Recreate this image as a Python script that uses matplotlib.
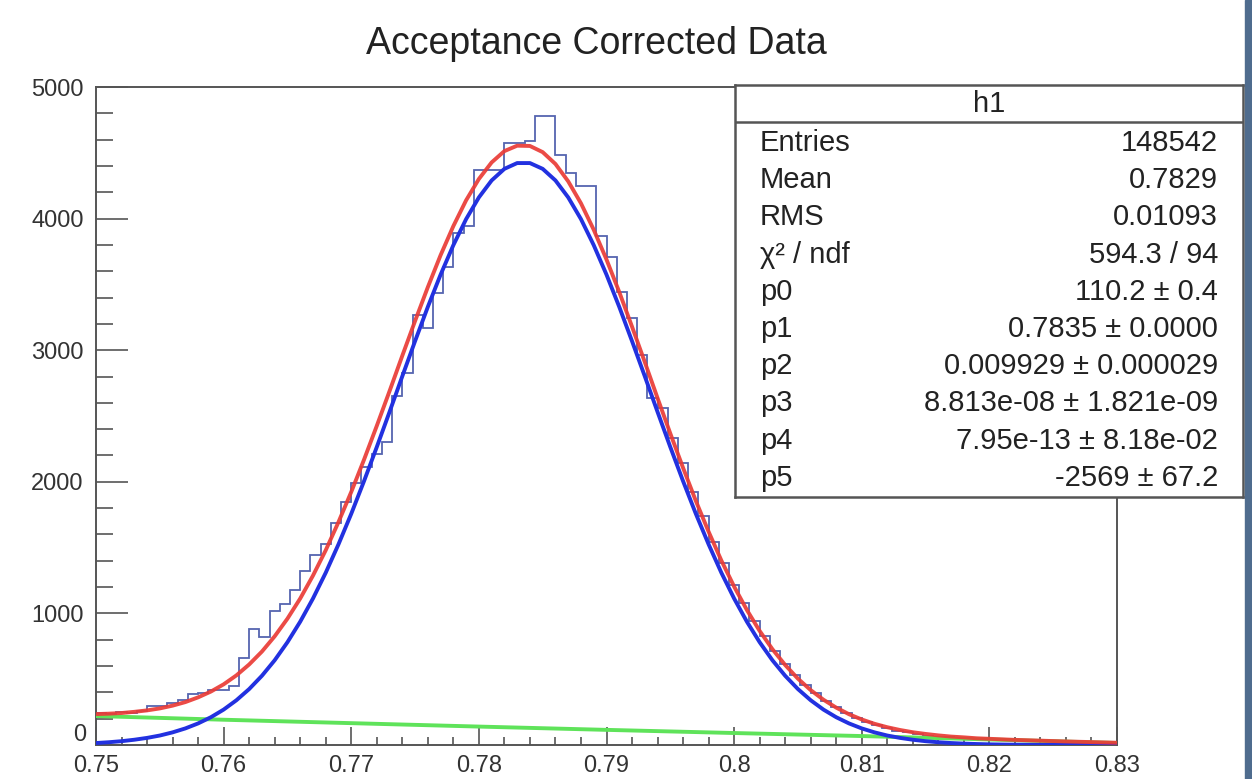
import numpy as np
import matplotlib
matplotlib.use("Agg")
import matplotlib.pyplot as plt
from matplotlib.patches import Rectangle
from matplotlib.ticker import MultipleLocator, FormatStrFormatter, FuncFormatter

plt.rcParams['font.family'] = ['Liberation Sans', 'DejaVu Sans']

# histogram h1: 100 bins from 0.75 to 0.83
x_lo, x_hi, n_bins = 0.75, 0.83, 100
counts = [240, 232, 248, 245, 262, 298, 300, 318, 340, 385,
          395, 418, 420, 450, 660, 880, 820, 1020, 1073, 1178,
          1324, 1443, 1527, 1686, 1850, 1990, 2115, 2210, 2300, 2650,
          2825, 3267, 3166, 3432, 3635, 3888, 3945, 4369, 4369, 4369,
          4574, 4574, 4586, 4780, 4780, 4483, 4350, 4250, 4250, 3865,
          3710, 3445, 3242, 2963, 2634, 2560, 2330, 2140, 1920, 1740,
          1545, 1380, 1215, 1080, 940, 825, 712, 615, 530, 458,
          392, 335, 285, 245, 208, 178, 150, 128, 110, 95,
          82, 72, 64, 57, 52, 48, 45, 42, 40, 38,
          35, 33, 30, 28, 26, 24, 22, 20, 18, 16]

# fit curves, every 0.001 from 0.75 to 0.83
signal_curve = [15, 21, 29, 40, 54, 72, 96, 126, 164, 211,
                269, 340, 425, 526, 644, 781, 937, 1113, 1309, 1525,
                1757, 2005, 2264, 2531, 2802, 3069, 3329, 3574, 3798, 3996,
                4161, 4290, 4378, 4422, 4422, 4378, 4290, 4161, 3996, 3798,
                3574, 3329, 3069, 2802, 2531, 2264, 2005, 1757, 1525, 1309,
                1113, 937, 781, 644, 526, 425, 340, 269, 211, 164,
                126, 96, 72, 54, 40, 29, 21, 15, 10.6, 7.4,
                5.0, 3.5, 2.4, 1.6, 1.0, 0.7, 0.4, 0.3, 0.2, 0.1, 0.07]
total_curve = [235, 238, 243, 252, 263, 278, 299, 326, 362, 406,
               461, 529, 612, 710, 826, 960, 1113, 1287, 1480, 1694,
               1923, 2168, 2425, 2689, 2958, 3222, 3479, 3722, 3943, 4139,
               4301, 4427, 4513, 4554, 4552, 4505, 4415, 4283, 4116, 3915,
               3689, 3442, 3179, 2910, 2636, 2367, 2106, 1855, 1621, 1402,
               1204, 1026, 867, 728, 608, 504, 417, 344, 284, 234,
               194, 161, 135, 114, 97, 84, 73, 64, 58, 51,
               47, 43, 39, 36, 33, 30, 27, 24.5, 22, 19.5, 17]
# background, every 0.01
bkg_curve = [220, 192, 166, 140, 115, 91, 68, 42, 15]

stats_names = ["Entries", "Mean", "RMS", "\u03c7\u00b2 / ndf",
               "p0", "p1", "p2", "p3", "p4", "p5"]
stats_values = ["148542", "0.7829", "0.01093", "594.3 / 94",
                "110.2 \u00b1 0.4", "0.7835 \u00b1 0.0000",
                "0.009929 \u00b1 0.000029", "8.813e-08 \u00b1 1.821e-09",
                "7.95e-13 \u00b1 8.18e-02", "-2569 \u00b1 67.2"]

W, H = 1252, 779
fig = plt.figure(figsize=(W / 100, H / 100), dpi=100)
ax = fig.add_axes([96 / W, 34 / H, 1021 / W, 658 / H])

edges = np.linspace(x_lo, x_hi, n_bins + 1)
ax.stairs(counts, edges, color='#5565b0', lw=1.3, zorder=2)

xf = np.linspace(x_lo, x_hi, len(signal_curve))
xb = np.linspace(x_lo, x_hi, len(bkg_curve))
ax.plot(xb, bkg_curve, color='#5fe35a', lw=2.8, zorder=3, solid_capstyle='butt')
ax.plot(xf, signal_curve, color='#2231e0', lw=2.8, zorder=4, solid_capstyle='butt')
ax.plot(xf, total_curve, color='#ea3b36', lw=2.8, zorder=5, alpha=0.92,
        solid_capstyle='butt')

ax.set_xlim(x_lo, x_hi)
ax.set_ylim(0, 5000)
ax.xaxis.set_major_locator(MultipleLocator(0.01))
ax.xaxis.set_minor_locator(MultipleLocator(0.002))
ax.yaxis.set_major_locator(MultipleLocator(1000))
ax.yaxis.set_minor_locator(MultipleLocator(200))
ax.xaxis.set_major_formatter(FormatStrFormatter('%g'))
# the "0" is drawn by hand below, sitting above the x labels like ROOT does
ax.yaxis.set_major_formatter(FuncFormatter(lambda v, p: '' if v == 0 else '%d' % v))
ax.tick_params(which='both', direction='in', colors='#555555', width=1.2,
               labelcolor='#333333', labelsize=17, top=False, right=False)
ax.tick_params(axis='y', which='major', length=23, pad=9)
ax.tick_params(axis='y', which='minor', length=12)
ax.tick_params(axis='x', which='major', length=13, pad=7)
ax.tick_params(axis='x', which='minor', length=6)
for sp in ax.spines.values():
    sp.set_color('#555555')
    sp.set_linewidth(1.4)
ax.annotate('0', xy=(0, 0), xycoords='axes fraction', xytext=(-7, -1),
            textcoords='offset points', ha='right', va='bottom',
            fontsize=17, color='#333333')

fig.text(596 / W, 1 - 54 / H, "Acceptance Corrected Data", ha='center',
         va='baseline', fontsize=27, color='#222222')

# stats box
bx0, by0, bx1, by1 = 735, 85, 1243, 497
sb = fig.add_axes([bx0 / W, 1 - by1 / H, (bx1 - bx0) / W, (by1 - by0) / H])
sb.set_xlim(bx0, bx1)
sb.set_ylim(by1, by0)
sb.set_xticks([])
sb.set_yticks([])
sb.set_facecolor('white')
for sp in sb.spines.values():
    sp.set_color('#555555')
    sp.set_linewidth(1.8)
sb.axhline(122, color='#555555', lw=1.8)
sb.text((bx0 + bx1) / 2, 104, "h1", ha='center', va='center',
        fontsize=21, color='#222222')
row_y0, row_dy = 143, 37.2
for k, (nm, val) in enumerate(zip(stats_names, stats_values)):
    yy = row_y0 + k * row_dy
    sb.text(760, yy, nm, ha='left', va='center', fontsize=21, color='#222222')
    sb.text(1218, yy, val, ha='right', va='center', fontsize=21, color='#222222')

# dark strip on the right edge of the screenshot
fig.patches.append(Rectangle((1245 / W, 0), 7 / W, 1, transform=fig.transFigure,
                             color='#4f6c8e', zorder=10))

fig.savefig("out.png", dpi=100)
